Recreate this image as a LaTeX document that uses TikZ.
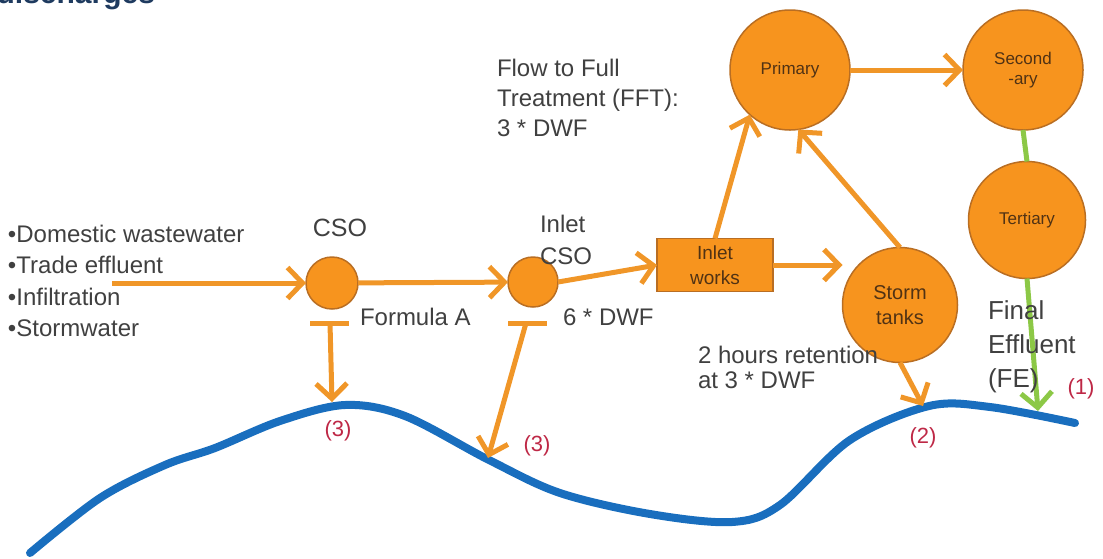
\documentclass[tikz,border=0pt]{standalone}
\usepackage{fontspec}
\setmainfont{Liberation Sans}
\usetikzlibrary{arrows.meta}

\definecolor{flow}{RGB}{240,150,40}
\definecolor{tankfill}{RGB}{247,148,30}
\definecolor{tankedge}{RGB}{185,110,35}
\definecolor{river}{RGB}{25,110,190}
\definecolor{effluent}{RGB}{140,200,70}
\definecolor{labelgrey}{RGB}{64,64,64}
\definecolor{tanktext}{RGB}{80,50,20}
\definecolor{outfall}{RGB}{190,40,70}
\definecolor{heading}{RGB}{30,58,95}

\newcommand{\fsz}[2]{\fontsize{#1}{#2}\selectfont}

\tikzset{
  every node/.style={inner sep=0pt, outer sep=0pt},
  unit/.style={circle, fill=tankfill, draw=tankedge, line width=1.5pt,
    minimum size=#1, text=tanktext, align=center, font=\fsz{17}{20}},
  overflow/.style={circle, fill=tankfill, draw=tankedge, line width=1.5pt, minimum size=#1},
  works/.style={rectangle, fill=tankfill, draw=tankedge, line width=1.5pt,
    minimum width=116pt, minimum height=53pt, text=tanktext, align=center, font=\fsz{19}{25}},
  note/.style={text=labelgrey, align=left, font=\fsz{24}{30}},
  outno/.style={text=outfall, font=\fsz{22}{24}},
  conn/.style={draw=flow, line width=5pt, -{Straight Barb[length=15pt,width=31pt]}},
  weir/.style={draw=flow, line width=5pt},
  fe/.style={draw=effluent, line width=5pt},
  feconn/.style={fe, -{Straight Barb[length=15pt,width=31pt]}},
  watercourse/.style={draw=river, line width=8pt, line cap=round}
}

\begin{document}
\begin{tikzpicture}[x=1pt, y=-1pt]
\useasboundingbox (0,0) rectangle (1103,558);
\clip (0,0) rectangle (1103,558);

% heading, cut by the top edge
\node[anchor=base east, text=heading, font=\bfseries\fsz{30}{30}] (title) at (155,3) {discharges};

% receiving water
\draw[watercourse] plot[smooth, tension=0.55] coordinates {
  (30,553) (100,498) (165,465) (215,448) (280,421) (345,405) (405,416)
  (489,460) (560,493) (650,514) (732,522) (780,505) (850,440) (929,406)
  (990,407) (1075,423)};

% discharge points on the river
\coordinate (r3a) at (332,402);
\coordinate (r3b) at (488,458);
\coordinate (r2) at (923,406);
\coordinate (r1) at (1038,411);

% treatment units
\node[overflow=52pt] (cso) at (332,283) {};
\node[overflow=50pt] (inletcso) at (533,282) {};
\node[works] (inletworks) at (715,265) {Inlet\\works};
\node[unit=120pt] (primary) at (790,70) {Primary};
\node[unit=120pt] (secondary) at (1023,70) {Second\\-ary};
\node[unit=117pt] (tertiary) at (1027,220) {Tertiary};
\node[unit=115pt, font=\fsz{20}{25}] (storm) at (900,305) {Storm\\tanks};

% incoming flow
\coordinate (src) at (112,283);
\draw[conn] (src) -- (cso.west);
\draw[conn] (cso) -- (inletcso);
\draw[conn] (inletcso.east) -- (inletworks.west);
\draw[conn] (inletworks.north) -- (primary.228);
\draw[conn] (inletworks.east) -- (inletworks.east -| storm.west);
\draw[conn] (storm.north) -- (primary.278);
\draw[conn] (primary.east) -- (secondary.west);
\draw[conn] (storm.south) -- (r2);

% overflow weirs
\coordinate (wa1) at (310,323);
\coordinate (wa2) at (349,323);
\coordinate (wa) at (330,323);
\coordinate (wb1) at (508,323);
\coordinate (wb2) at (547,323);
\coordinate (wb) at (526,323);
\draw[weir] (wa1) -- (wa2);
\draw[weir] (wb1) -- (wb2);
\draw[conn] (wa) -- (r3a);
\draw[conn] (wb) -- (r3b);

% final effluent
\draw[fe] (secondary.south) -- (tertiary.north);
\draw[feconn] (tertiary.south) -- (r1);

% labels
\node[note, anchor=west, font=\fsz{24}{31.5}] (sources) at (8,281)
  {•Domestic wastewater\\•Trade effluent\\•Infiltration\\•Stormwater};
\node[note, font=\fsz{25}{30}] (csolabel) at (340,228) {CSO};
\node[note, anchor=west, font=\fsz{24}{32}] (inletlabel) at (540,240) {Inlet\\CSO};
\node[note, anchor=west] (formula) at (360,317) {Formula A};
\node[note, anchor=west] (sixdwf) at (563,317) {6 * DWF};
\node[note, anchor=west] (fft) at (497,98) {Flow to Full\\Treatment (FFT):\\3 * DWF};
\node[note, anchor=west, font=\fsz{24}{25}] (retention) at (698,367) {2 hours retention\\at 3 * DWF};
\node[note, anchor=west, font=\fsz{26}{34}] (felabel) at (988,347) {Final\\Effluent\\(FE)};

\node[outno] (n3a) at (338,431) {(3)};
\node[outno] (n3b) at (537,446) {(3)};
\node[outno] (n2) at (923,438) {(2)};
\node[outno] (n1) at (1081,389) {(1)};
\end{tikzpicture}
\end{document}
